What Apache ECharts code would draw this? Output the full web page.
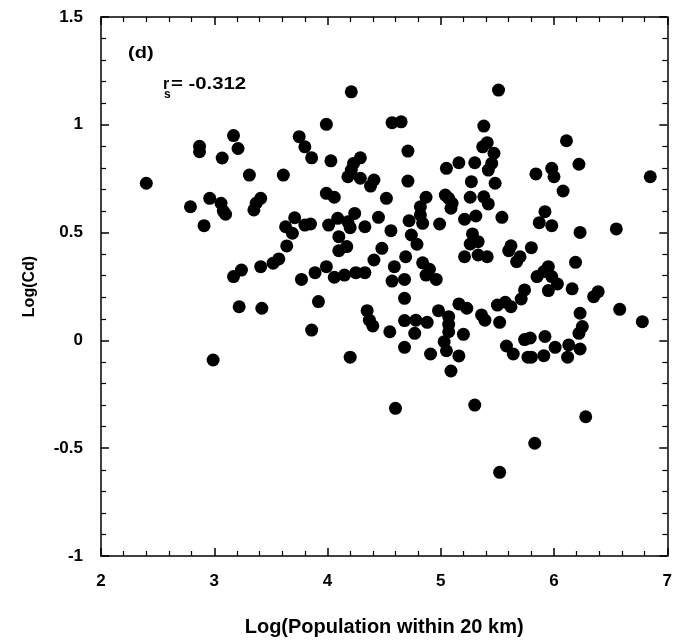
<!DOCTYPE html>
<html>
<head>
<meta charset="utf-8">
<script src="https://cdn.jsdelivr.net/npm/echarts@6/dist/echarts.min.js"></script>
<style>
    html, body {margin: 0; padding: 0; background: #fff;}
    #chartContainer {width: 675px; height: 643px;}
</style>
</head>
<body>
<div id="chartContainer"></div>
<script>
// Log(Population within 20 km)
var popLog = [
    3.17, 2.87, 2.87, 3.21, 3.07, 3.31, 2.40, 2.96, 2.79, 3.06, 3.08, 3.10, 2.91, 3.41, 3.37, 3.35, 3.24, 3.17, 3.41, 3.22, 3.42, 2.99,
    4.21, 3.99, 4.57, 4.65, 3.75, 3.80, 3.86, 4.03, 3.61, 4.29, 4.23, 4.21, 4.18, 4.29, 4.41, 4.38, 4.52, 3.99, 4.06, 4.24, 4.45, 3.71,
    3.63, 3.69, 3.80, 3.85, 4.01, 4.09, 4.18, 4.20, 4.33, 4.56, 4.10, 4.17, 4.10, 4.48, 3.64, 3.57, 3.52, 3.99, 4.41, 3.89, 3.77, 4.06,
    4.15, 4.25, 4.33, 4.59, 4.57, 3.92, 3.86, 4.35, 4.37, 4.40, 4.55, 4.20, 4.60,
    5.51, 5.38, 5.41, 5.37, 5.47, 4.71, 5.16, 5.30, 5.05, 5.45, 5.42, 4.71, 5.27, 5.48, 4.87, 5.04, 5.07, 5.10, 5.09, 5.26, 5.38, 5.42,
    4.82, 4.82, 4.72, 4.84, 4.99, 5.21, 5.31, 5.54, 4.74, 4.79, 5.28, 5.26, 5.33, 5.62, 5.60, 5.67, 5.70, 4.69, 5.21, 5.33, 5.41, 4.84,
    4.90, 4.87, 4.68, 4.96, 4.68, 5.74, 5.71, 4.98, 5.16, 5.23, 5.50, 5.57, 5.62, 5.36, 5.39, 5.52, 4.68, 4.78, 4.88, 4.77, 5.07, 5.07,
    5.07, 5.20, 5.03, 5.05, 4.68, 4.91, 5.16, 5.09, 5.58, 5.64, 5.74, 5.77, 5.30, 5.52,
    6.11, 6.22, 5.98, 5.84, 6.00, 6.85, 6.08, 5.92, 5.87, 5.98, 6.23, 6.55, 5.80, 6.19, 5.95, 5.91, 5.85, 5.98, 6.03, 5.95, 6.16, 6.39,
    6.35, 6.58, 6.78, 6.23, 6.25, 6.22, 5.79, 5.92, 6.01, 6.13, 6.23, 5.80, 5.91, 6.12, 6.28, 5.83
];
// Log(Cd)
var cdLog = [
    0.95, 0.90, 0.875, 0.89, 0.846, 0.767, 0.729, 0.659, 0.62, 0.636, 0.60, 0.585, 0.532, 0.659, 0.636, 0.605, 0.326, 0.296, 0.342, 0.156, 0.149, -0.091,
    1.153, 1.002, 1.01, 1.014, 0.945, 0.898, 0.847, 0.833, 0.767, 0.847, 0.821, 0.79, 0.759, 0.752, 0.744, 0.716, 0.659, 0.682, 0.664, 0.589, 0.571, 0.569,
    0.527, 0.497, 0.535, 0.54, 0.535, 0.566, 0.55, 0.523, 0.527, 0.509, 0.481, 0.435, 0.416, 0.427, 0.438, 0.378, 0.358, 0.342, 0.373, 0.314, 0.283, 0.293,
    0.303, 0.314, 0.314, 0.342, 0.275, 0.18, 0.048, 0.138, 0.094, 0.067, 0.04, -0.078, -0.315,
    1.161, 0.994, 0.917, 0.898, 0.868, 0.878, 0.824, 0.824, 0.798, 0.821, 0.79, 0.739, 0.736, 0.729, 0.664, 0.674, 0.659, 0.636, 0.613, 0.664, 0.666, 0.633,
    0.62, 0.582, 0.555, 0.543, 0.54, 0.562, 0.577, 0.571, 0.489, 0.446, 0.494, 0.447, 0.458, 0.439, 0.416, 0.365, 0.388, 0.388, 0.388, 0.396, 0.388, 0.36,
    0.33, 0.303, 0.283, 0.283, 0.195, 0.234, 0.192, 0.138, 0.169, 0.149, 0.164, 0.177, 0.156, 0.118, 0.094, 0.084, 0.092, 0.094, 0.084, 0.033, 0.11, 0.075,
    0.04, 0.028, -0.006, -0.048, -0.032, -0.063, -0.072, -0.142, -0.026, -0.063, 0.004, -0.078, -0.30, -0.612,
    0.926, 0.817, 0.798, 0.772, 0.759, 0.759, 0.693, 0.597, 0.546, 0.532, 0.501, 0.517, 0.43, 0.362, 0.342, 0.319, 0.296, 0.296, 0.262, 0.231, 0.239, 0.226,
    0.203, 0.144, 0.087, 0.126, 0.064, 0.033, 0.011, 0.018, -0.032, -0.021, -0.04, -0.078, -0.071, -0.078, -0.354, -0.477
];

var points = [];
for (var i = 0; i < popLog.length; i++) {
    points.push([popLog[i], cdLog[i]]);
}

var fontFam = 'Liberation Sans, Arial, sans-serif';
var chart = echarts.init(document.getElementById('chartContainer'));

var lineStyle = {onZero: false, lineStyle: {color: '#000', width: 1.5}};
var tickStyle = {show: true, inside: true, length: 8, lineStyle: {color: '#000', width: 1.5}};
var minorStyle = {show: true, splitNumber: 5, length: 5, lineStyle: {color: '#000', width: 1.2}};
var labelStyle = {fontFamily: fontFam, fontWeight: 'bold', fontSize: 17, color: '#000'};

var option = {
    animation: false,
    grid: {left: 101, right: 6, top: 17, bottom: 87},
    xAxis: [
        {
            type: 'value', min: 2, max: 7, interval: 1, position: 'bottom',
            name: 'Log(Population within 20 km)', nameLocation: 'middle', nameGap: 61,
            nameTextStyle: {fontFamily: fontFam, fontWeight: 'bold', fontSize: 20, color: '#000'},
            axisLine: lineStyle,
            axisTick: tickStyle, minorTick: minorStyle,
            axisLabel: Object.assign({margin: 17}, labelStyle),
            splitLine: {show: false}
        },
        {
            type: 'value', min: 2, max: 7, interval: 1, position: 'top',
            axisLine: lineStyle,
            axisTick: tickStyle, minorTick: minorStyle,
            axisLabel: {show: false}, splitLine: {show: false}
        }
    ],
    yAxis: [
        {
            type: 'value', min: -1, max: 1.5, interval: 0.5, position: 'left',
            name: 'Log(Cd)', nameLocation: 'middle', nameGap: 63, nameRotate: 90,
            nameTextStyle: {fontFamily: fontFam, fontWeight: 'bold', fontSize: 16, color: '#000'},
            axisLine: lineStyle,
            axisTick: tickStyle, minorTick: minorStyle,
            axisLabel: Object.assign({margin: 18}, labelStyle),
            splitLine: {show: false}
        },
        {
            type: 'value', min: -1, max: 1.5, interval: 0.5, position: 'right',
            axisLine: lineStyle,
            axisTick: tickStyle, minorTick: minorStyle,
            axisLabel: {show: false}, splitLine: {show: false}
        }
    ],
    graphic: [
        {type: 'text', x: 128, y: 46, scaleX: 1.25, style: {text: '(d)', fontFamily: fontFam, fontWeight: 'bold', fontSize: 16, fill: '#000'}},
        {type: 'text', x: 163, y: 77, style: {text: 'r', fontFamily: fontFam, fontWeight: 'bold', fontSize: 16, fill: '#000'}},
        {type: 'text', x: 164, y: 89, style: {text: 's', fontFamily: fontFam, fontWeight: 'bold', fontSize: 12, fill: '#000'}},
        {type: 'text', x: 171, y: 77, scaleX: 1.27, style: {text: '= -0.312', fontFamily: fontFam, fontWeight: 'bold', fontSize: 16, fill: '#000'}}
    ],
    series: [
        {
            type: 'scatter',
            xAxisIndex: 0, yAxisIndex: 0,
            symbol: 'circle', symbolSize: 13,
            itemStyle: {color: '#000', opacity: 1},
            data: points
        }
    ]
};
chart.setOption(option);
</script>
</body>
</html>
